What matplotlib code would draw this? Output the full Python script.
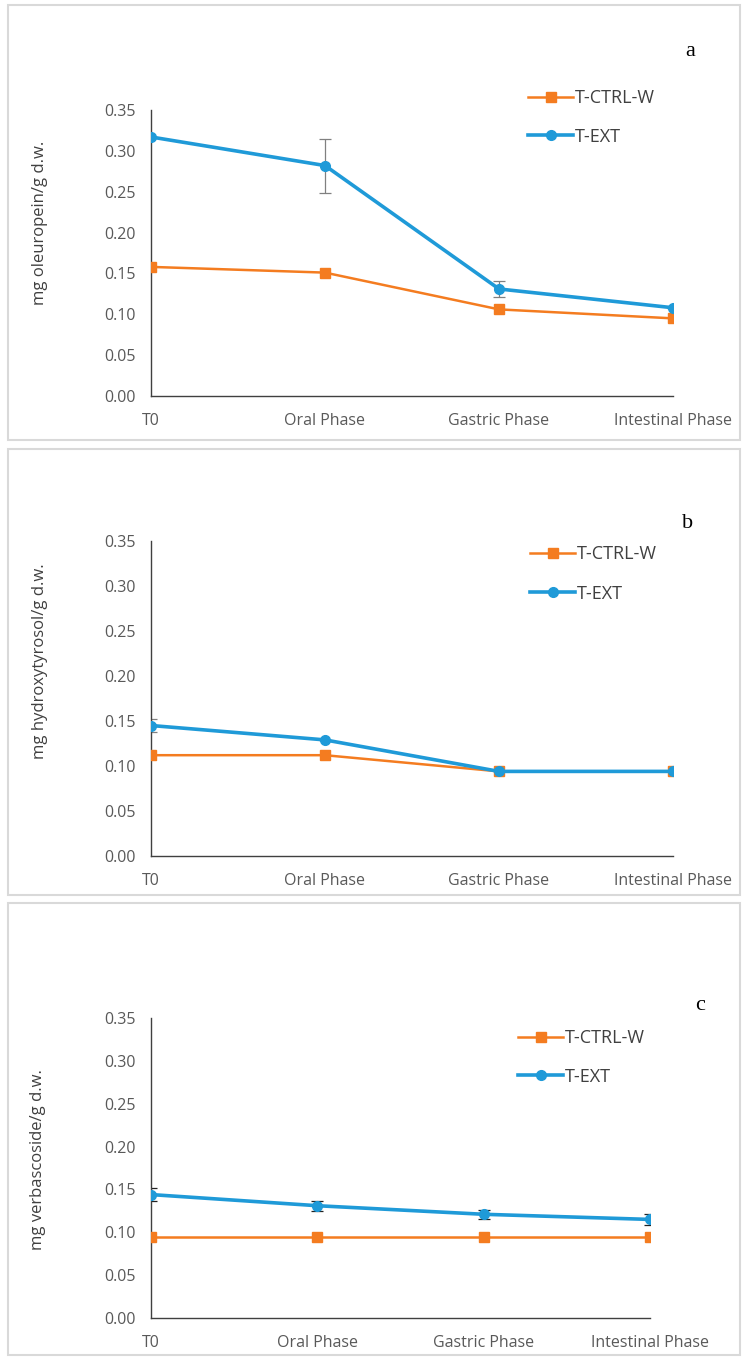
import matplotlib.pyplot as plt
from matplotlib.patches import Rectangle

# categories and values
phases = ['T0', 'Oral Phase', 'Gastric Phase', 'Intestinal Phase']
series_names = ['T-CTRL-W', 'T-EXT']

oleu_ctrl = [0.158, 0.151, 0.106, 0.095]
oleu_ext = [0.317, 0.282, 0.131, 0.108]
oleu_ext_err = [0.0, 0.033, 0.010, 0.0]

hydr_ctrl = [0.112, 0.112, 0.094, 0.094]
hydr_ext = [0.145, 0.129, 0.094, 0.094]
hydr_ext_err = [0.007, 0.0, 0.0, 0.0]

verb_ctrl = [0.094, 0.094, 0.094, 0.094]
verb_ext = [0.144, 0.131, 0.121, 0.115]
verb_ext_err = [0.008, 0.006, 0.005, 0.006]

y_ticks = [0.00, 0.05, 0.10, 0.15, 0.20, 0.25, 0.30, 0.35]

W, H = 748, 1361
ORANGE = '#f47c20'
BLUE = '#1f9ad8'
GREY_TXT = '#595959'
plt.rcParams['font.family'] = ['Open Sans', 'DejaVu Sans']

fig = plt.figure(figsize=(W / 100, H / 100), dpi=100)


def px_rect(left, top, right, bottom):
    return [left / W, 1 - bottom / H, (right - left) / W, (bottom - top) / H]


# (box, axes rect, ylabel pos, letter pos, legend anchor, legend spacing, ...)
panels = [
    ((8, 5, 740, 440), (151, 110, 673, 396), (40, 223), (690, 51), (528, 89), 1.15,
     'mg oleuropein/g d.w.', 'a', oleu_ctrl, oleu_ext, oleu_ext_err, 'grey'),
    ((8, 449, 740, 895), (151, 541, 673, 856), (40, 661), (688, 523), (530, 545), 1.2,
     'mg hydroxytyrosol/g d.w.', 'b', hydr_ctrl, hydr_ext, hydr_ext_err, 'grey'),
    ((8, 903, 740, 1355), (151, 1018, 650, 1318), (38, 1160), (700, 1006), (518, 1029), 1.15,
     'mg verbascoside/g d.w.', 'c', verb_ctrl, verb_ext, verb_ext_err, '#222222'),
]

for box, rect, ylab, letter, leg, lsp, ylabel, tag, ctrl, ext, err, ecol in panels:
    # light grey frame around each panel
    l, t, r, b = box
    fig.patches.append(Rectangle((l / W, 1 - b / H), (r - l) / W, (b - t) / H,
                                 transform=fig.transFigure, fill=False,
                                 edgecolor='#d9d9d9', linewidth=1.5))

    ax = fig.add_axes(px_rect(*rect))
    x = range(len(phases))
    ax.errorbar(x, ext, yerr=err, fmt='none', ecolor=ecol, elinewidth=0.9,
                capsize=4, capthick=0.9, zorder=2)
    ax.plot(x, ctrl, color=ORANGE, linewidth=1.8, marker='s', markersize=6.5,
            label=series_names[0], zorder=3)
    ax.plot(x, ext, color=BLUE, linewidth=2.6, marker='o', markersize=7,
            label=series_names[1], zorder=4)

    ax.set_xlim(0, len(phases) - 1)
    ax.set_ylim(0, 0.35)
    ax.set_yticks(y_ticks)
    ax.set_yticklabels([f'{v:.2f}' for v in y_ticks])
    ax.set_xticks(list(x))
    ax.set_xticklabels(phases)
    ax.tick_params(length=0, labelsize=11.5, colors=GREY_TXT)
    ax.tick_params(axis='y', pad=11)
    ax.tick_params(axis='x', pad=12)
    for s in ['top', 'right']:
        ax.spines[s].set_visible(False)
    for s in ['left', 'bottom']:
        ax.spines[s].set_color('#404040')
        ax.spines[s].set_linewidth(1.0)
    ax.patch.set_alpha(0)

    fig.text(ylab[0] / W, 1 - ylab[1] / H, ylabel, rotation=90, ha='center',
             va='center', fontsize=12, color='#404040')
    fig.text(letter[0] / W, 1 - letter[1] / H, tag, ha='center', va='center',
             fontsize=16, family='Liberation Serif', color='black')

    handles, labels = ax.get_legend_handles_labels()
    ax.legend(handles, labels, loc='upper left',
              bbox_to_anchor=(leg[0] / W, 1 - leg[1] / H),
              bbox_transform=fig.transFigure, frameon=False, fontsize=13,
              handlelength=2.5, labelspacing=lsp, handletextpad=0.1,
              borderpad=0, borderaxespad=0, labelcolor='#404040')

plt.savefig('out.png', dpi=100)
